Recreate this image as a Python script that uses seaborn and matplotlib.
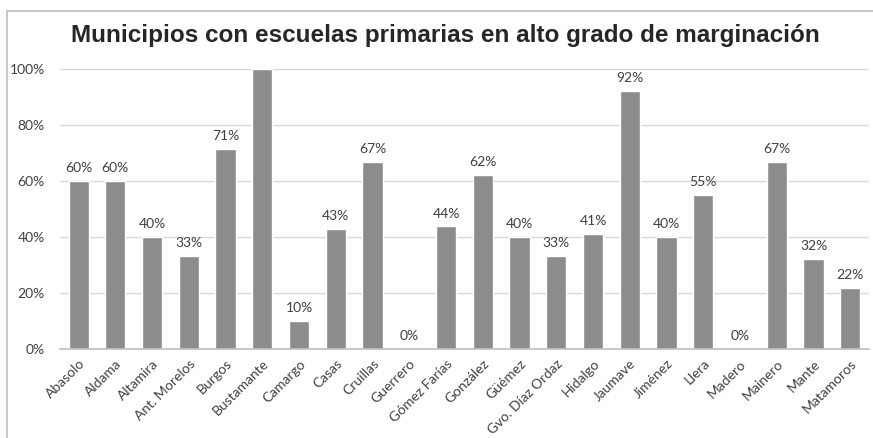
import seaborn as sns
import matplotlib.pyplot as plt
import pandas as pd
from matplotlib.lines import Line2D

municipios = ["Abasolo", "Aldama", "Altamira", "Ant. Morelos", "Burgos",
              "Bustamante", "Camargo", "Casas", "Cruillas", "Guerrero",
              "Gómez Farías", "González", "Güémez", "Gvo. Díaz Ordaz",
              "Hidalgo", "Jaumave", "Jiménez", "Llera", "Madero", "Mainero",
              "Mante", "Matamoros"]
porcentaje = [0.60, 0.60, 0.40, 0.333, 0.714, 1.00, 0.10, 0.429, 0.667, 0.0,
              0.4375, 0.62, 0.40, 0.333, 0.412, 0.92, 0.40, 0.55, 0.0, 0.667,
              0.323, 0.217]
etiquetas = ["60%", "60%", "40%", "33%", "71%", "", "10%", "43%", "67%", "0%",
             "44%", "62%", "40%", "33%", "41%", "92%", "40%", "55%", "0%",
             "67%", "32%", "22%"]
y_ticks = [0, 0.2, 0.4, 0.6, 0.8, 1.0]
y_labels = ["0%", "20%", "40%", "60%", "80%", "100%"]


def main():
    df = pd.DataFrame({"Municipio": municipios, "Porcentaje": porcentaje})

    sns.set_style("white")
    plt.rcParams['font.family'] = ['Lato', 'DejaVu Sans']

    fig = plt.figure(figsize=(8.73, 4.38), dpi=100)
    ax = fig.add_axes([0.069, 0.203, 0.926, 0.64])

    sns.barplot(data=df, x="Municipio", y="Porcentaje", color="#8c8c8c",
                width=0.55, saturation=1, ax=ax, zorder=3)

    ax.set_ylim(0, 1.0)
    ax.set_xlim(-0.5, len(municipios) - 0.5)
    ax.set_yticks(y_ticks)
    ax.set_yticklabels(y_labels, fontsize=10, color="#404040")
    ax.yaxis.grid(True, color="#d9d9d9", linewidth=1, zorder=0)
    ax.tick_params(axis="y", length=0, pad=11)
    ax.tick_params(axis="x", length=0, pad=6)
    ax.set_xticks(range(len(municipios)))
    ax.set_xticklabels(municipios, rotation=45, ha="right",
                       rotation_mode="anchor", fontsize=10, color="#404040")
    ax.set_xlabel("")
    ax.set_ylabel("")

    for side in ["top", "right", "left"]:
        ax.spines[side].set_visible(False)
    ax.spines["bottom"].set_color("#bfbfbf")
    ax.spines["bottom"].set_linewidth(1.2)
    ax.spines["bottom"].set_zorder(4)

    for i, (v, lab) in enumerate(zip(porcentaje, etiquetas)):
        if lab:
            ax.annotate(lab, (i, v), xytext=(0, 5), textcoords="offset points",
                        ha="center", va="bottom", fontsize=10, color="#404040",
                        annotation_clip=False)

    fig.text(0.51, 0.918, "Municipios con escuelas primarias en alto grado de marginación",
             ha="center", va="center", fontsize=17.5, fontweight="bold",
             color="#262626", family="Liberation Sans")

    # chart frame (top and left edges visible in the reference)
    fig.add_artist(Line2D([0.008, 1.0], [0.975, 0.975], color="#bfbfbf",
                          linewidth=1.2, transform=fig.transFigure))
    fig.add_artist(Line2D([0.008, 0.008], [0.0, 0.975], color="#bfbfbf",
                          linewidth=1.2, transform=fig.transFigure))

    fig.savefig("out.png", dpi=100)


if __name__ == '__main__':
    main()
